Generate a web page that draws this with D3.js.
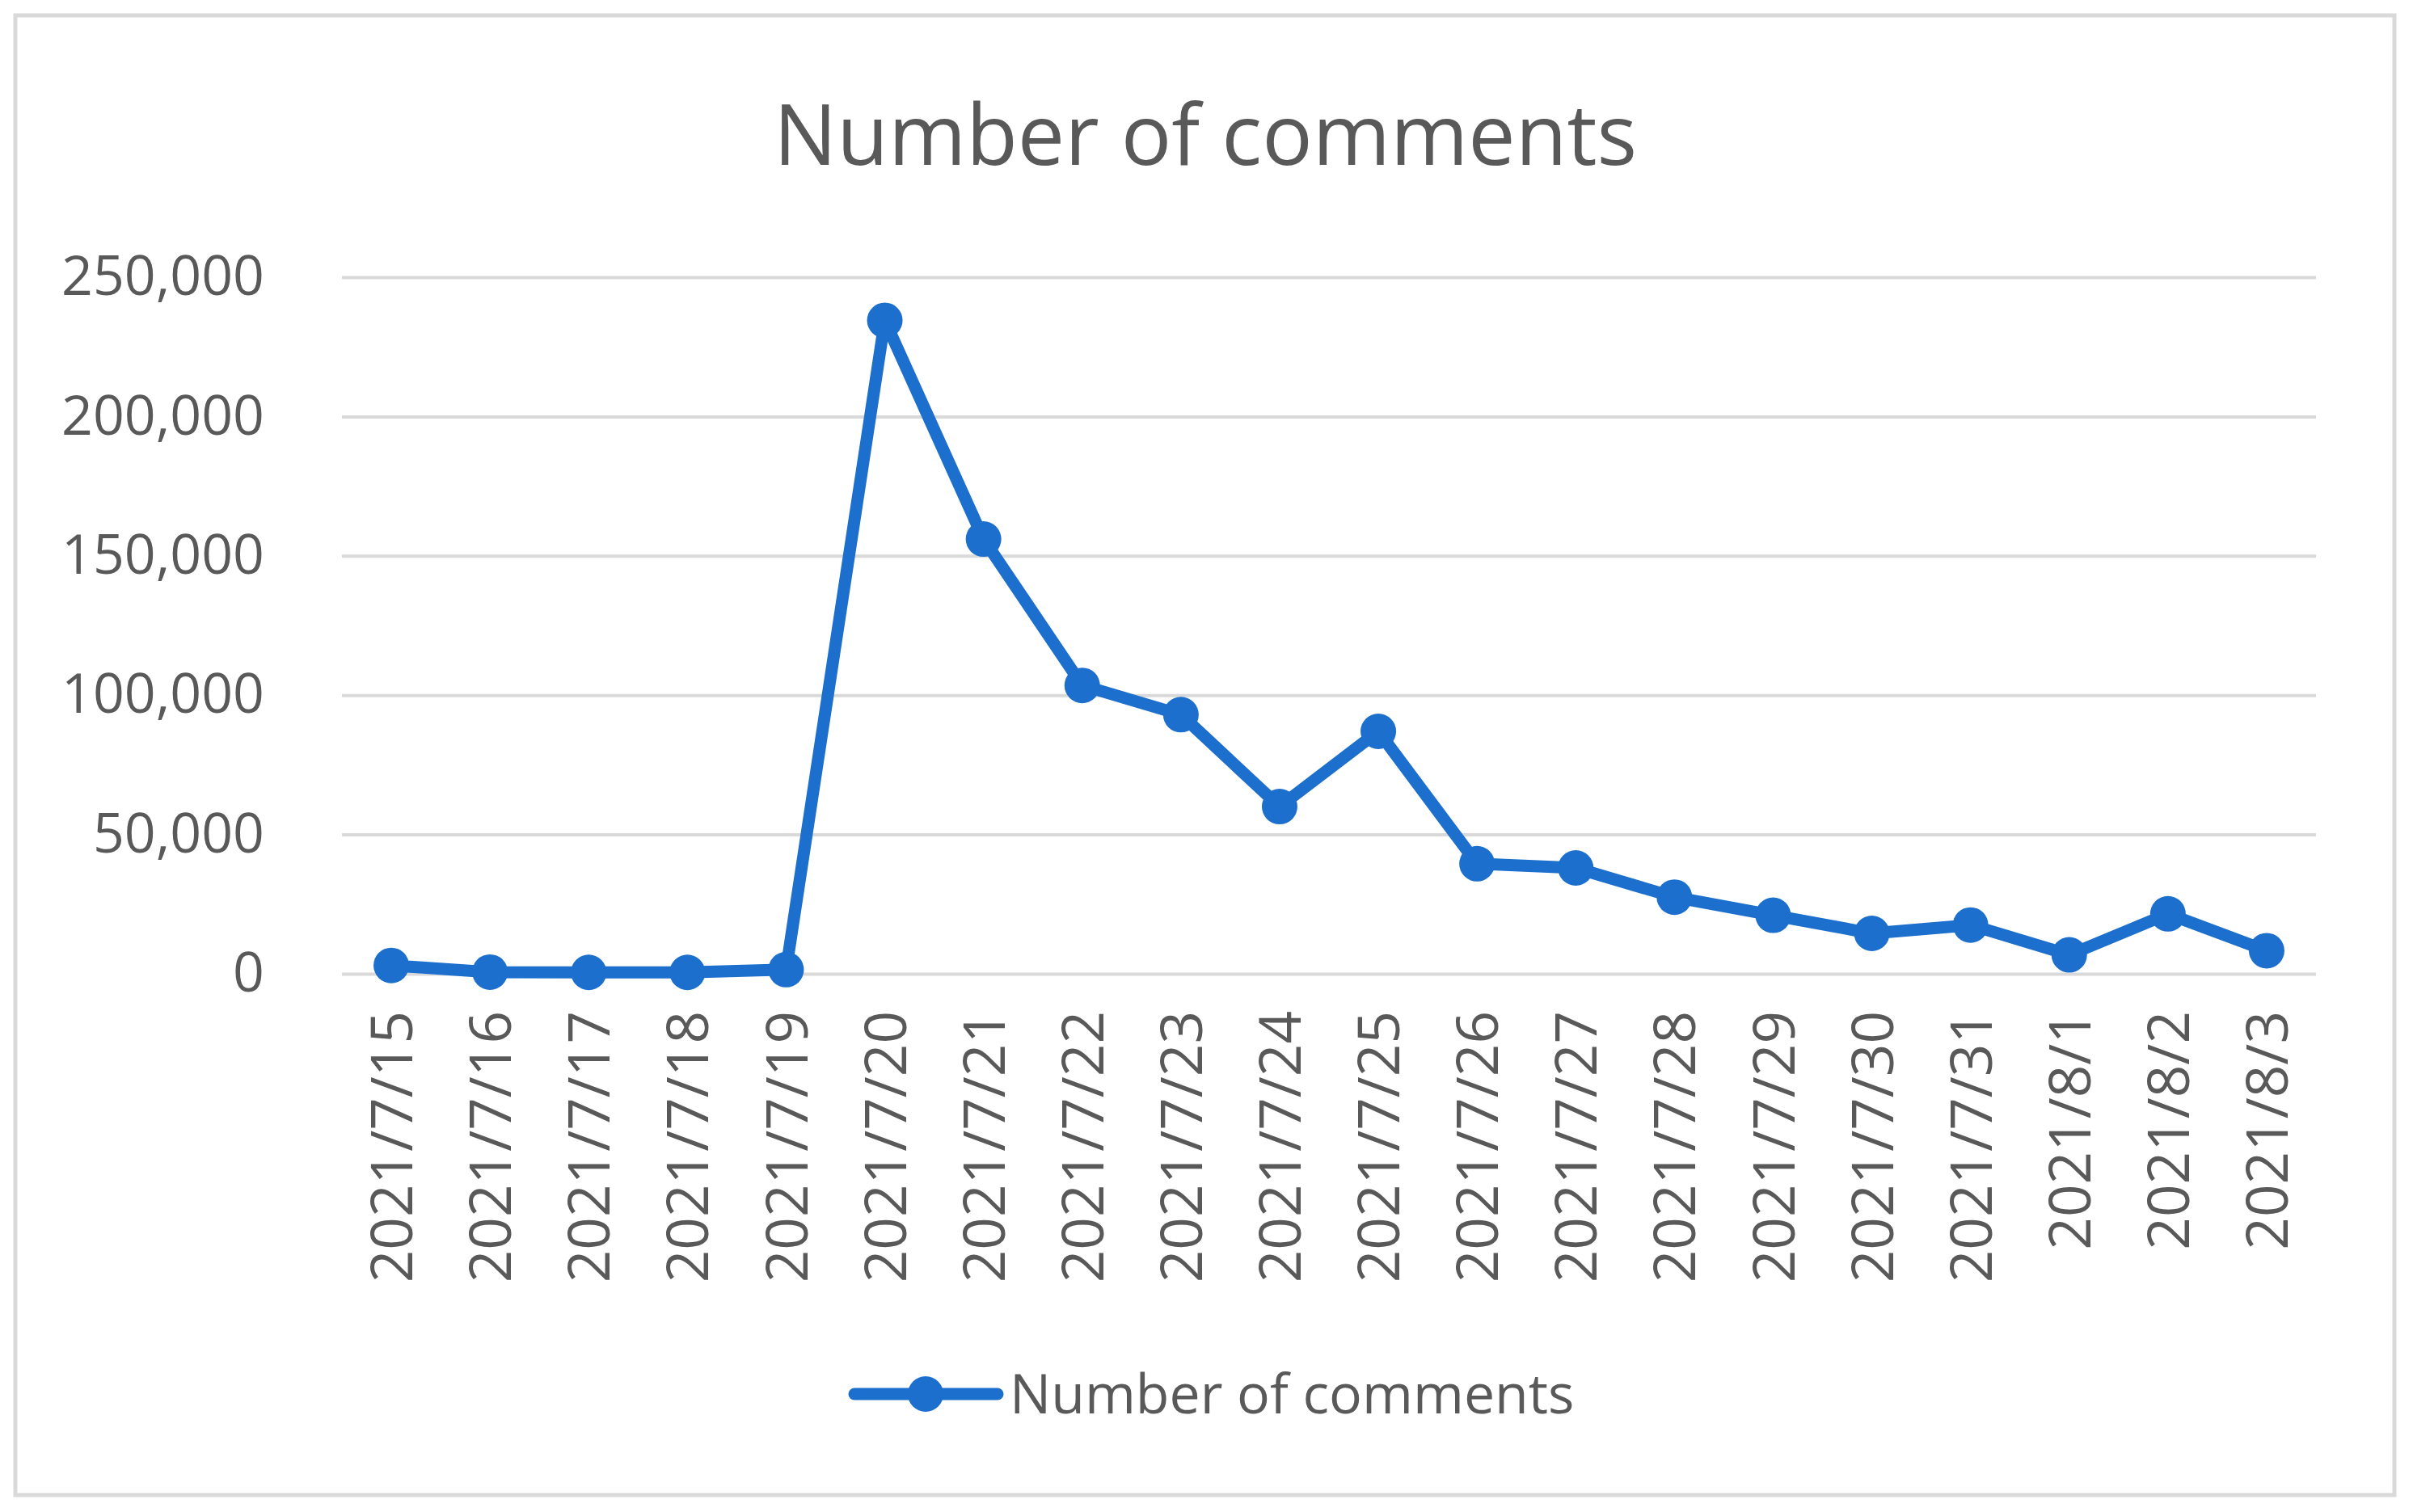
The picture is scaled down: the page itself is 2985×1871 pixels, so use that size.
<!DOCTYPE html>
<html>
<head>
<meta charset="utf-8">
<script src="https://cdn.jsdelivr.net/npm/d3@7"></script>
<style>
  body { margin: 0; background: #fff; }
  svg { display: block; }
  .axis text { font-family: "Open Sans", sans-serif; fill: #595959; }
  .axis path { display: none; }
</style>
</head>
<body>
<svg class="chart" width="2985" height="1871"></svg>
<script>
// data
var dates = ["2021/7/15", "2021/7/16", "2021/7/17", "2021/7/18", "2021/7/19",
  "2021/7/20", "2021/7/21", "2021/7/22", "2021/7/23", "2021/7/24",
  "2021/7/25", "2021/7/26", "2021/7/27", "2021/7/28", "2021/7/29",
  "2021/7/30", "2021/7/31", "2021/8/1", "2021/8/2", "2021/8/3"];
var comments = [3000, 600, 500, 500, 1500,
  234500, 156000, 103500, 93000, 60000,
  87000, 39500, 38000, 27500, 21000,
  14500, 17500, 6800, 21500, 8300];
var yTicks = [0, 50000, 100000, 150000, 200000, 250000];
var seriesName = "Number of comments";

var svg = d3.select("svg.chart"),
    margin = {top: 343, right: 120, bottom: 666, left: 423},
    width = svg.attr("width") - margin.left - margin.right,
    height = svg.attr("height") - margin.top - margin.bottom,
    blue = "#1d6fce";

// outer frame
svg.append("rect")
  .attr("x", 19).attr("y", 19)
  .attr("width", 2943).attr("height", 1831)
  .attr("fill", "#fff")
  .attr("stroke", "#d9d9d9")
  .attr("stroke-width", 5);

svg.append("text")
  .attr("x", 1491).attr("y", 204)
  .attr("text-anchor", "middle")
  .style("font-family", "'Open Sans', sans-serif")
  .style("font-size", "104px")
  .style("fill", "#595959")
  .text(seriesName);

var g = svg.append("g").attr("transform", "translate(" + margin.left + "," + margin.top + ")");

var x = d3.scalePoint().domain(dates).range([0, width]).padding(0.5),
    y = d3.scaleLinear().domain([0, 250000]).range([height, 0]);

// y axis + gridlines
var yAxis = g.append("g")
  .attr("class", "axis axis--y")
  .call(d3.axisLeft(y).tickValues(yTicks).tickFormat(d3.format(",")).tickSize(-width).tickPadding(96));
yAxis.selectAll("line").attr("stroke", "#d9d9d9").attr("stroke-width", 4);
yAxis.selectAll("text").style("font-size", "68px");

// x axis, rotated labels
var xAxis = g.append("g")
  .attr("class", "axis axis--x")
  .attr("transform", "translate(0," + height + ")")
  .call(d3.axisBottom(x).tickSize(0));
xAxis.selectAll("text")
  .style("font-size", "71px")
  .attr("transform", "rotate(-90)")
  .attr("text-anchor", "end")
  .attr("x", -46)
  .attr("y", 0)
  .attr("dy", "0.36em");

var line = d3.line()
  .x(function(d, i) { return x(dates[i]); })
  .y(function(d) { return y(d); });

g.append("path")
  .datum(comments)
  .attr("fill", "none")
  .attr("stroke", blue)
  .attr("stroke-width", 15)
  .attr("stroke-linejoin", "round")
  .attr("d", line);

g.selectAll("circle.pt")
  .data(comments)
  .enter().append("circle")
  .attr("class", "pt")
  .attr("cx", function(d, i) { return x(dates[i]); })
  .attr("cy", function(d) { return y(d); })
  .attr("r", 22)
  .attr("fill", blue);

// legend
var legend = svg.append("g").attr("transform", "translate(1057,1725)");
legend.append("line")
  .attr("x1", 0).attr("x2", 177)
  .attr("stroke", blue).attr("stroke-width", 15)
  .attr("stroke-linecap", "round");
legend.append("circle").attr("cx", 88).attr("r", 22).attr("fill", blue);
legend.append("text")
  .attr("x", 192).attr("dy", "0.35em")
  .style("font-family", "'Open Sans', sans-serif")
  .style("font-size", "68px")
  .style("fill", "#595959")
  .text(seriesName);
</script>
</body>
</html>
